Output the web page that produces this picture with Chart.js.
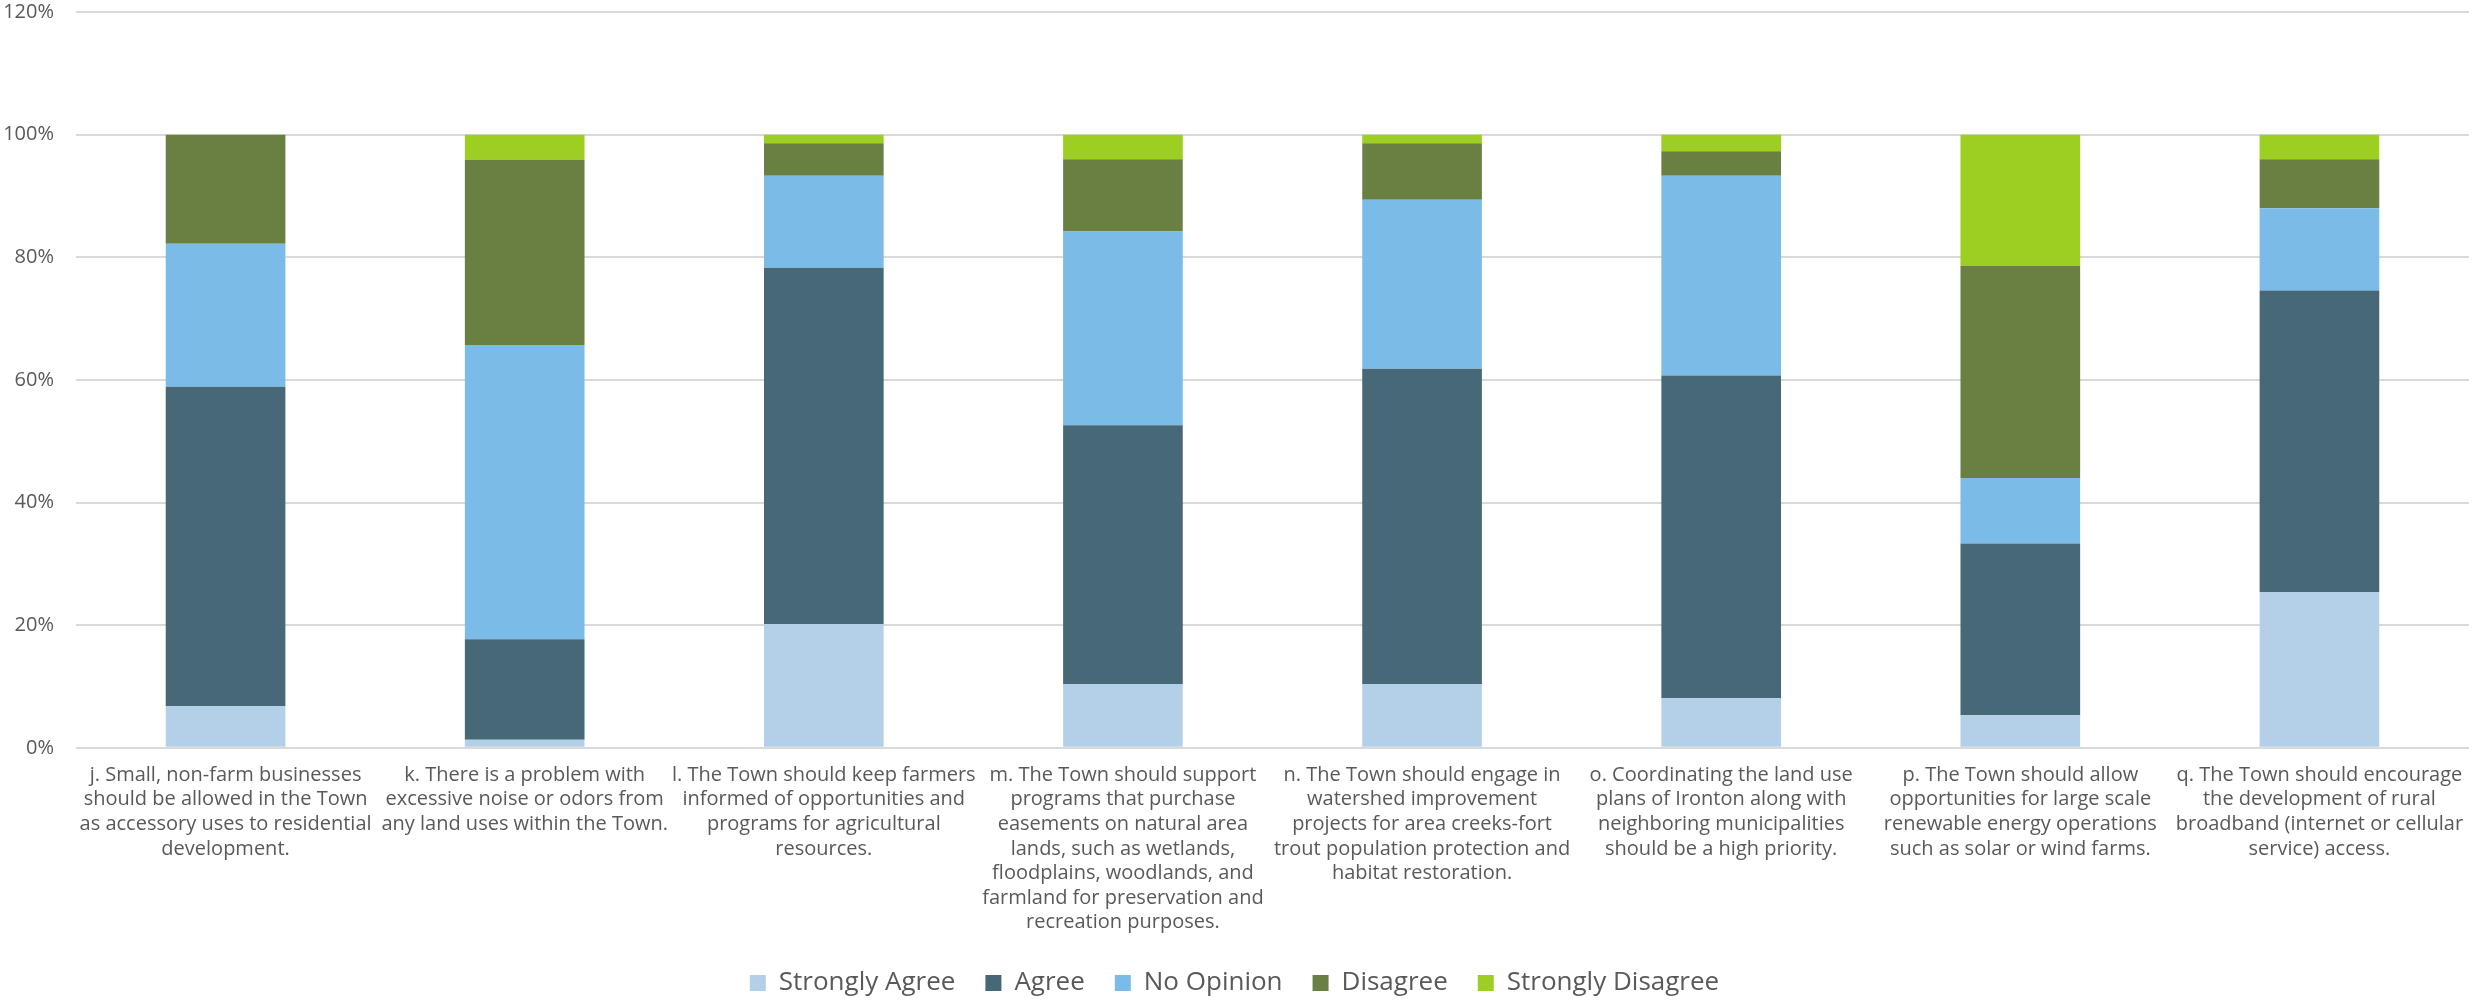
<!DOCTYPE html>
<html>
<head>
<meta charset="utf-8">
<script src="https://cdn.jsdelivr.net/npm/chart.js@4"></script>
<style>
html,body{margin:0;padding:0;background:#fff;overflow:hidden;}
#wrap{width:2474px;height:1000px;position:relative;overflow:hidden;}
#c{position:absolute;left:0;top:-22px;}
</style>
</head>
<body>
<div id="wrap"><canvas id="c" width="2474" height="1028"></canvas></div>
<script>
const categories = [
  ["j. Small, non-farm businesses","should be allowed in the Town","as accessory uses to residential","development."],
  ["k. There is a problem with","excessive noise or odors from","any land uses within the Town."],
  ["l. The Town should keep farmers","informed of opportunities and","programs for agricultural","resources."],
  ["m. The Town should support","programs that purchase","easements on natural area","lands, such as wetlands,","floodplains, woodlands, and","farmland for preservation and","recreation purposes."],
  ["n. The Town should engage in","watershed improvement","projects for area creeks-fort","trout population protection and","habitat restoration."],
  ["o. Coordinating the land use","plans of Ironton along with","neighboring municipalities","should be a high priority."],
  ["p. The Town should allow","opportunities for large scale","renewable energy operations","such as solar or wind farms."],
  ["q. The Town should encourage","the development of rural","broadband (internet or cellular","service) access."]
];
const seriesNames = ["Strongly Agree","Agree","No Opinion","Disagree","Strongly Disagree"];
const stronglyAgree    = [6.8, 1.3, 20.2, 10.4, 10.4, 8.1, 5.3, 25.4];
const agree            = [52.1, 16.4, 58.1, 42.2, 51.4, 52.6, 28.0, 49.2];
const noOpinion        = [23.3, 48.0, 15.0, 31.6, 27.6, 32.6, 10.7, 13.4];
const disagree         = [17.8, 30.2, 5.3, 11.8, 9.2, 4.0, 34.6, 8.0];
const stronglyDisagree = [0.0, 4.1, 1.4, 4.0, 1.4, 2.7, 21.4, 4.0];
const yTicks = [0, 20, 40, 60, 80, 100, 120];

const colors = ["#b4d0e8","#466877","#7abbe8","#6a8043","#9ccf21"];
const seriesData = [stronglyAgree, agree, noOpinion, disagree, stronglyDisagree];
const FONT = "'Open Sans', sans-serif";
const TXT = "#595959";

new Chart(document.getElementById('c'), {
  type: 'bar',
  data: {
    labels: categories,
    datasets: seriesNames.map((n, i) => ({
      label: n,
      data: seriesData[i],
      backgroundColor: colors[i],
      borderWidth: 0,
      categoryPercentage: 1.0,
      barPercentage: 0.4
    }))
  },
  options: {
    responsive: false,
    animation: false,
    layout: { padding: { left: 0, right: 5, top: 0, bottom: 0 } },
    plugins: {
      tooltip: { enabled: false },
      legend: {
        position: 'bottom',
        labels: {
          font: { family: FONT, size: 26 },
          color: TXT,
          boxWidth: 16,
          boxHeight: 16,
          padding: 30
        }
      }
    },
    scales: {
      x: {
        stacked: true,
        grid: { display: false },
        border: { display: false },
        afterFit: (axis) => { axis.height -= 2; axis.paddingLeft = 0; axis.paddingRight = 0; },
        ticks: {
          autoSkip: false,
          maxRotation: 0,
          minRotation: 0,
          font: { family: FONT, size: 20, lineHeight: 1.23 },
          color: TXT,
          padding: 7
        }
      },
      y: {
        stacked: true,
        min: 0,
        max: 120,
        afterBuildTicks: (axis) => { axis.ticks = yTicks.map(v => ({ value: v })); },
        afterFit: (axis) => { axis.width = 76; },
        grid: { color: "#d9d9d9", lineWidth: 2, drawTicks: false },
        border: { display: false },
        ticks: {
          callback: (v) => v + '%',
          font: { family: FONT, size: 20 },
          color: TXT,
          padding: 22
        }
      }
    }
  }
});
</script>
</body>
</html>
